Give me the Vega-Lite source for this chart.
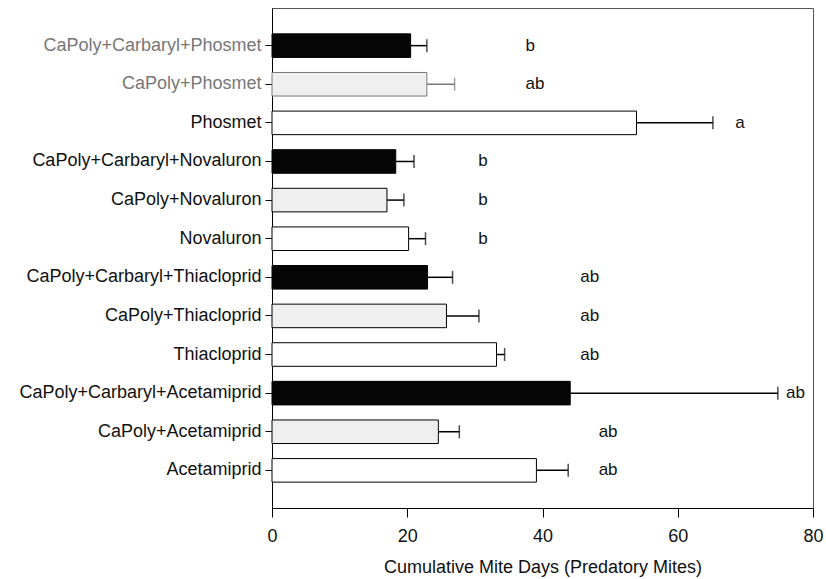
{
  "$schema": "https://vega.github.io/schema/vega-lite/v6.json",
  "width": 541,
  "height": 500,
  "autosize": {"type": "none"},
  "padding": {"left": 272, "top": 8, "right": 13, "bottom": 71},
  "background": "white",
  "config": {
    "view": {"stroke": "#555", "strokeWidth": 1},
    "font": "Liberation Sans",
    "axis": {"labelFont": "Liberation Sans", "titleFont": "Liberation Sans", "domainColor": "#000", "tickColor": "#000", "labelColor": "#111", "titleColor": "#111", "grid": false}
  },
  "data": {
    "values": [
      {"treatment": "CaPoly+Carbaryl+Phosmet", "group": "CaPoly+Carbaryl", "mean": 20.5, "upper": 22.9, "letter": "b", "letter_x": 37.5},
      {"treatment": "CaPoly+Phosmet", "group": "CaPoly", "mean": 22.9, "upper": 27.0, "letter": "ab", "letter_x": 37.5},
      {"treatment": "Phosmet", "group": "Alone", "mean": 53.9, "upper": 65.2, "letter": "a", "letter_x": 68.5},
      {"treatment": "CaPoly+Carbaryl+Novaluron", "group": "CaPoly+Carbaryl", "mean": 18.3, "upper": 21.0, "letter": "b", "letter_x": 30.5},
      {"treatment": "CaPoly+Novaluron", "group": "CaPoly", "mean": 17.0, "upper": 19.5, "letter": "b", "letter_x": 30.5},
      {"treatment": "Novaluron", "group": "Alone", "mean": 20.2, "upper": 22.7, "letter": "b", "letter_x": 30.5},
      {"treatment": "CaPoly+Carbaryl+Thiacloprid", "group": "CaPoly+Carbaryl", "mean": 23.0, "upper": 26.7, "letter": "ab", "letter_x": 45.6},
      {"treatment": "CaPoly+Thiacloprid", "group": "CaPoly", "mean": 25.8, "upper": 30.6, "letter": "ab", "letter_x": 45.6},
      {"treatment": "Thiacloprid", "group": "Alone", "mean": 33.2, "upper": 34.4, "letter": "ab", "letter_x": 45.6},
      {"treatment": "CaPoly+Carbaryl+Acetamiprid", "group": "CaPoly+Carbaryl", "mean": 44.1, "upper": 74.8, "letter": "ab", "letter_x": 76.0},
      {"treatment": "CaPoly+Acetamiprid", "group": "CaPoly", "mean": 24.6, "upper": 27.7, "letter": "ab", "letter_x": 48.3},
      {"treatment": "Acetamiprid", "group": "Alone", "mean": 39.1, "upper": 43.8, "letter": "ab", "letter_x": 48.3}
    ]
  },
  "encoding": {
    "y": {
      "field": "treatment", "type": "nominal", "sort": null,
      "scale": {"paddingInner": 0.39, "paddingOuter": 0.67},
      "axis": {"title": null, "labelFontSize": 18, "labelLimit": 320, "labelPadding": 4, "tickSize": 7,
        "labelColor": {"condition": {"test": "datum.value === 'CaPoly+Carbaryl+Phosmet' || datum.value === 'CaPoly+Phosmet'", "value": "#777"}, "value": "#111"}}
    }
  },
  "layer": [
    {
      "mark": {"type": "rule", "strokeWidth": 1.5},
      "encoding": {
        "x": {"field": "mean", "type": "quantitative", "scale": {"domain": [0, 80], "nice": false},
          "axis": {"values": [0, 20, 40, 60, 80], "labelFlush": false, "title": "Cumulative Mite Days (Predatory Mites)", "titleFontSize": 18, "titleFontWeight": "normal", "titlePadding": 13, "labelFontSize": 18, "labelPadding": 10, "tickSize": 9}},
        "x2": {"field": "upper"},
        "color": {"condition": {"test": "datum.treatment === 'CaPoly+Phosmet'", "value": "#777"}, "value": "#000"}
      }
    },
    {
      "mark": {"type": "tick", "size": 13, "thickness": 1.5},
      "encoding": {
        "x": {"field": "upper", "type": "quantitative"},
        "color": {"condition": {"test": "datum.treatment === 'CaPoly+Phosmet'", "value": "#777"}, "value": "#000"}
      }
    },
    {
      "mark": {"type": "bar", "strokeWidth": 1},
      "encoding": {
        "x": {"field": "mean", "type": "quantitative"},
        "fill": {"field": "group", "type": "nominal", "scale": {"domain": ["CaPoly+Carbaryl", "CaPoly", "Alone"], "range": ["#050505", "#efefef", "#ffffff"]}, "legend": null},
        "stroke": {"condition": {"test": "datum.treatment === 'CaPoly+Phosmet'", "value": "#777"}, "value": "#000"}
      }
    },
    {
      "mark": {"type": "text", "align": "left", "baseline": "middle", "fontSize": 17, "color": "#111"},
      "encoding": {
        "x": {"field": "letter_x", "type": "quantitative"},
        "text": {"field": "letter"}
      }
    }
  ]
}
